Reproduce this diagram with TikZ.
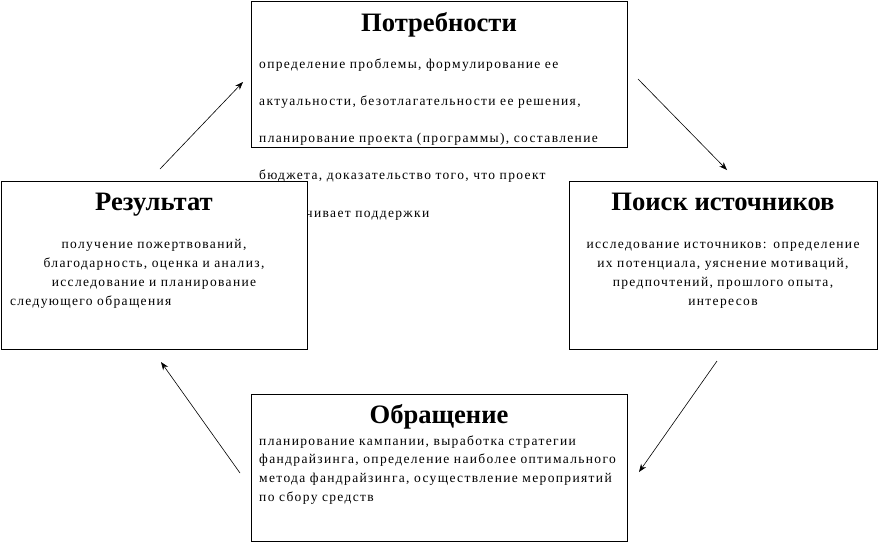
\documentclass[tikz,border=0pt]{standalone}
\usepackage{fontspec}
\setmainfont{Liberation Serif}
\usetikzlibrary{positioning,arrows.meta}

\begin{document}
\begin{tikzpicture}[
  x=1pt, y=-1pt,
  box/.style={draw, fill=white, line width=0.9pt, anchor=north west, inner sep=0pt},
  head/.style={font=\fontsize{26.6}{30}\selectfont\bfseries, inner sep=0pt, anchor=base},
  body/.style={font=\fontsize{13.5}{19}\selectfont\addfontfeature{LetterSpace=10}, inner sep=0pt},
  arr/.style={-{Stealth[length=8pt,width=6pt]}, line width=0.6pt},
  node distance=0pt
]
\useasboundingbox (0,0) rectangle (878,542);
% top box, its text runs out below the frame
\node[box, minimum width=376pt, minimum height=146pt] (need) at (251,1) {};
\node[head] (needT) at (439,31) {Потребности};
\node[body, align=left, text width=400pt, anchor=base west, font=\fontsize{13.5}{37.3}\selectfont\addfontfeature{LetterSpace=10}] (needB) at (259,68)
  {определение проблемы, формулирование ее\\
   актуальности, безотлагательности ее решения,\\
   планирование проекта (программы), составление\\
   бюджета, доказательство того, что проект\\
   обеспечивает поддержки};
% left box
\node[box, minimum width=306pt, minimum height=168pt] (res) at (1,181) {};
\node[head] (resT) at (154,210) {Результат};
\node[body, align=center, text width=288pt, anchor=base] (resB) at (154,248)
  {получение пожертвований,\\
   благодарность, оценка и анализ,\\
   исследование и планирование\\
   \makebox[288pt][l]{следующего обращения}};
% right box
\node[box, minimum width=308pt, minimum height=168pt] (src) at (569,181) {};
\node[head] (srcT) at (723,210) {Поиск источников};
\node[body, align=center, text width=300pt, anchor=base] (srcB) at (723,248)
  {исследование источников: определение\\
   их потенциала, уяснение мотиваций,\\
   предпочтений, прошлого опыта,\\
   интересов};
% bottom box
\node[box, minimum width=376pt, minimum height=147pt] (ask) at (251,394) {};
\node[head] (askT) at (439,423) {Обращение};
\node[body, align=left, text width=366pt, anchor=base west, font=\fontsize{13.5}{18.7}\selectfont\addfontfeature{LetterSpace=10}] (askB) at (259,445)
  {планирование кампании, выработка стратегии\\
   фандрайзинга, определение наиболее оптимального\\
   метода фандрайзинга, осуществление мероприятий\\
   по сбору средств};
% arrows
\coordinate (a1) at (160,169);
\coordinate (b1) at (243,82);
\coordinate (a2) at (638,79);
\coordinate (b2) at (727,170);
\coordinate (a3) at (717,361);
\coordinate (b3) at (639,472);
\coordinate (a4) at (240,473);
\coordinate (b4) at (161,362);
\draw[arr] (a1) -- (b1);
\draw[arr] (a2) -- (b2);
\draw[arr] (a3) -- (b3);
\draw[arr] (a4) -- (b4);
\end{tikzpicture}
\end{document}
